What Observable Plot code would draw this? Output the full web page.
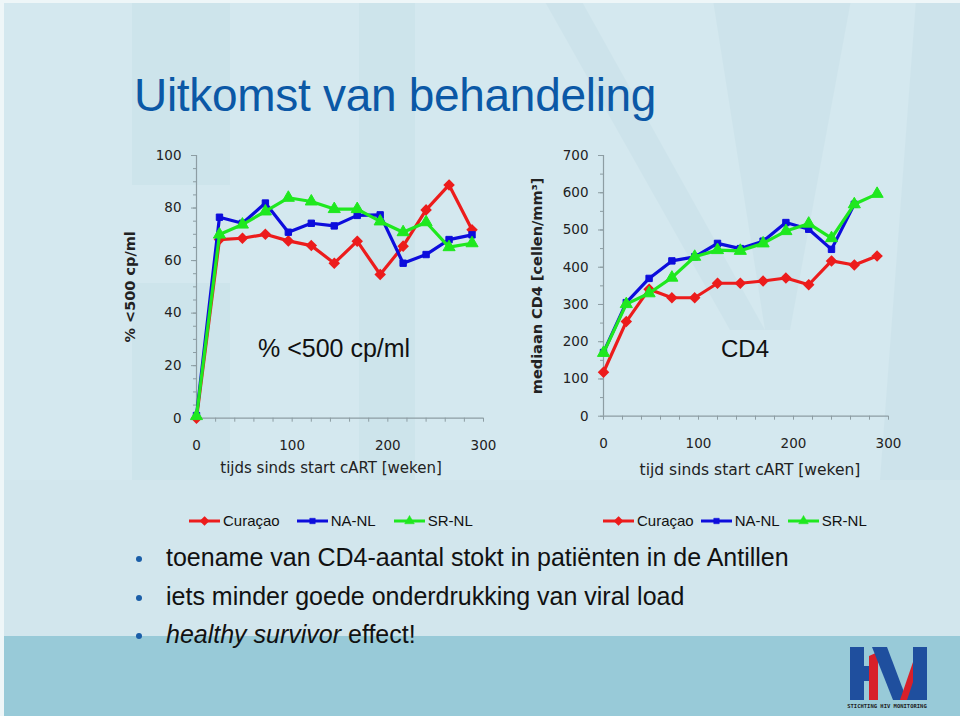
<!DOCTYPE html>
<html>
<head>
<meta charset="utf-8">
<script src="https://cdn.jsdelivr.net/npm/d3@7"></script>
<script src="https://cdn.jsdelivr.net/npm/@observablehq/plot@0.6"></script>
<style>
  html, body { margin: 0; padding: 0; }
  #slide { position: relative; width: 960px; height: 716px; overflow: hidden; background: #d3e7ee; font-family: "Liberation Sans", Arial, sans-serif; }
  .abs { position: absolute; }
  .legend { position: absolute; display: flex; align-items: center; font-size: 15px; color: #111; white-space: nowrap; }
  .legend .item { display: flex; align-items: center; }
  .legend svg { display: block; }
  .bullets { position: absolute; left: 133px; top: 538px; font-size: 25px; color: #111; }
  .bullets div { position: relative; height: 38.5px; line-height: 38.5px; padding-left: 33px; white-space: nowrap; }
  .bullets div::before { content: ""; position: absolute; left: 3px; top: 18px; width: 6px; height: 6px; border-radius: 50%; background: #1a5ea8; }
</style>
</head>
<body>
<div id="slide">
  <svg class="abs" style="left:0;top:0" width="960" height="716">
    <rect x="0" y="0" width="960" height="716" fill="#d4e8ef"/>
    <g fill="#c6dfe7" opacity="0.45">
      <rect x="132" y="0" width="98" height="480"/>
      <rect x="359" y="0" width="56" height="480"/>
      <polygon points="544,0 581,0 765,330 730,330"/>
      <polygon points="713,0 851,0 790,330 765,330"/>
      <polygon points="916,0 960,0 960,480 880,480"/>
    </g>
    <rect x="132" y="185" width="98" height="98" fill="#d8ebf1" opacity="0.6"/>
    <rect x="0" y="480" width="960" height="156" fill="#cfe4eb" opacity="0.5"/>
    <rect x="0" y="636" width="960" height="80" fill="#98cad8"/>
    <rect x="0" y="0" width="4" height="716" fill="#eef6f8"/>
    <rect x="0" y="0" width="960" height="3" fill="#eef6f8"/>
  </svg>

  <div class="abs" style="left:134px;top:68px;font-size:46px;color:#0b58a6;white-space:nowrap;letter-spacing:-0.3px">Uitkomst van behandeling</div>

  <div id="chart1" class="abs" style="left:110px;top:140px"></div>
  <div id="chart2" class="abs" style="left:520px;top:140px"></div>

  <div class="abs" style="left:258px;top:334px;font-size:25px;color:#111;white-space:nowrap">% &lt;500 cp/ml</div>
  <div class="abs" style="left:721px;top:335px;font-size:24px;color:#111;white-space:nowrap">CD4</div>

  <div id="legend1" class="legend" style="left:188px;top:512px"></div>
  <div id="legend2" class="legend" style="left:602px;top:512px"></div>

  <div class="bullets">
    <div>toename van CD4-aantal stokt in patiënten in de Antillen</div>
    <div>iets minder goede onderdrukking van viral load</div>
    <div><i>healthy survivor</i> effect!</div>
  </div>

  <svg class="abs" style="left:840px;top:640px" width="100" height="76">
    <g transform="translate(-840,-640)">
      <rect x="850" y="647" width="14" height="53" fill="#1f4f9e"/>
      <rect x="864" y="666" width="12" height="15" fill="#1f4f9e"/>
      <polygon points="869,656 878,652 878,700 869,700" fill="#d8202a"/>
      <polygon points="872,647 887,647 907,700 893,700" fill="#1f4f9e"/>
      <polygon points="900,700 913,662 913,700" fill="#d8202a"/>
      <polygon points="907,700 913,682 913,647 927,647 927,700" fill="#1f4f9e"/>
      <text x="887" y="708" font-size="5.5" font-family="DejaVu Sans Mono, monospace" font-weight="bold" text-anchor="middle" fill="#222">STICHTING HIV MONITORING</text>
    </g>
  </svg>
</div>

<script>
// ---- data ----
const weeks = [0, 24, 48, 72, 96, 120, 144, 168, 192, 216, 240, 264, 288];
const seriesNames = ["Curaçao", "NA-NL", "SR-NL"];
const seriesColors = ["#ec1c1c", "#0d0ddc", "#1fe81f"];
const seriesSymbols = ["diamond2", "square", "triangle"];

// % <500 cp/ml
const vlCuracao = [0, 68, 68.5, 70, 67.5, 65.7, 59, 67.4, 54.7, 65.5, 79.3, 88.8, 71.7];
const vlNANL    = [1, 76.5, 74.2, 81.9, 70.8, 74.2, 73.2, 77.2, 77.4, 59, 62.3, 68, 69.8];
const vlSRNL    = [0.8, 69.9, 73.7, 78.7, 83.9, 82.5, 79.6, 79.6, 74.9, 70.8, 74.6, 65.1, 66.6];

// median CD4 [cellen/mm3]
const cd4Curacao = [118, 254, 341, 318, 318, 357, 357, 363, 371, 353, 417, 406, 430];
const cd4NANL    = [171, 305, 370, 417, 428, 464, 450, 470, 520, 502, 448, 569];
const cd4SRNL    = [170, 301, 330, 372, 428, 446, 444, 464, 497, 517, 478, 569, 597];

const xTicksMajor = [0, 100, 200, 300];
const vlTicks = [0, 20, 40, 60, 80, 100];
const cd4Ticks = [0, 100, 200, 300, 400, 500, 600, 700];

function rows(valueArrays) {
  const out = [];
  valueArrays.forEach((vals, i) => {
    vals.forEach((v, j) => out.push({series: seriesNames[i], week: weeks[j], value: v}));
  });
  return out;
}

const axisColor = "#8d9da3";
const tickFont = "DejaVu Sans, Verdana, sans-serif";

function makeChart({data, yDomain, yTicks, yMinor, marginLeft, marginRight, marginBottom, ylabel, xlabel, xlabelDx, xlabelDy, ylabelDx, xlabelSize, xlabelSpacing}) {
  const marks = [
    Plot.axisY({ticks: yMinor, tickSize: 3, text: null, label: null, stroke: axisColor}),
    Plot.axisY({ticks: yTicks, tickSize: 5, tickPadding: 10, label: null, stroke: axisColor, fill: "#222"}),
    Plot.axisX({ticks: d3.range(0, 301, 20), tickSize: 4, text: null, label: null, stroke: axisColor}),
    Plot.axisX({ticks: xTicksMajor, tickSize: 0, tickPadding: 22, label: null, fill: "#222"}),
    Plot.ruleY([yDomain[0]], {stroke: axisColor, strokeWidth: 1.2}),
    Plot.ruleX([0], {stroke: axisColor, strokeWidth: 1.2}),
  ];
  seriesNames.forEach((name, i) => {
    const d = data.filter(r => r.series === name);
    marks.push(Plot.line(d, {x: "week", y: "value", stroke: seriesColors[i], strokeWidth: 3.2, strokeLinejoin: "round"}));
    marks.push(Plot.dot(d, {x: "week", y: "value", fill: seriesColors[i], stroke: seriesColors[i], symbol: seriesSymbols[i], r: i === 2 ? 4.5 : 3.6, strokeWidth: i === 0 ? 2.5 : 1}));
  });
  marks.push(Plot.text([ylabel], {frameAnchor: "left", textAnchor: "middle", lineAnchor: "middle", dx: ylabelDx, rotate: -90, fontSize: 14.5, fontWeight: "bold", fill: "#222", fontFamily: tickFont, text: d => d}));
  marks.push(Plot.text([xlabel], {frameAnchor: "bottom", textAnchor: "middle", lineAnchor: "middle", dx: xlabelDx, dy: xlabelDy, fontSize: xlabelSize, fill: "#222", fontFamily: tickFont, text: d => d, letterSpacing: xlabelSpacing}));
  return Plot.plot({
    width: 400,
    height: 350,
    marginTop: 15,
    marginLeft,
    marginRight,
    marginBottom,
    x: {domain: [0, 300]},
    y: {domain: yDomain},
    style: {background: "transparent", fontFamily: tickFont, fontSize: "13.5px", color: "#222", overflow: "visible"},
    marks
  });
}

document.getElementById("chart1").append(makeChart({
  data: rows([vlCuracao, vlNANL, vlSRNL]),
  yDomain: [0, 100], yTicks: vlTicks, yMinor: d3.range(0, 101, 5),
  marginLeft: 86, marginRight: 27, marginBottom: 72.3,
  ylabel: "% <500 cp/ml", ylabelDx: -66,
  xlabel: "tijds sinds start cART [weken]", xlabelDx: -9, xlabelDy: 50,
  xlabelSize: 15, xlabelSpacing: "0.6px"
}));

document.getElementById("chart2").append(makeChart({
  data: rows([cd4Curacao, cd4NANL, cd4SRNL]),
  yDomain: [0, 700], yTicks: cd4Ticks, yMinor: d3.range(0, 701, 50),
  marginLeft: 83, marginRight: 32, marginBottom: 74.3,
  ylabel: "mediaan CD4 [cellen/mm³]", ylabelDx: -66,
  xlabel: "tijd sinds start cART [weken]", xlabelDx: 4, xlabelDy: 54,
  xlabelSize: 15.5, xlabelSpacing: "0.75px"
}));

function legend(el, gaps) {
  seriesNames.forEach((name, i) => {
    const item = document.createElement("div");
    item.className = "item";
    item.style.marginRight = gaps[i] + "px";
    const sym = d3.symbol(
      i === 0 ? d3.symbolDiamond2 : i === 1 ? d3.symbolSquare : d3.symbolTriangle,
      i === 2 ? 40 : 30
    )();
    item.innerHTML = `<svg width="33" height="12"><line x1="1" y1="6" x2="32" y2="6" stroke="${seriesColors[i]}" stroke-width="3"/>` +
      `<path d="${sym}" transform="translate(16.5,6)" fill="${seriesColors[i]}" stroke="${seriesColors[i]}" stroke-width="${i===0?2:0.5}"/></svg>` +
      `<span style="margin-left:2px">${name}</span>`;
    el.append(item);
  });
}
legend(document.getElementById("legend1"), [16, 17, 0]);
legend(document.getElementById("legend2"), [6, 7, 0]);
</script>
</body>
</html>
